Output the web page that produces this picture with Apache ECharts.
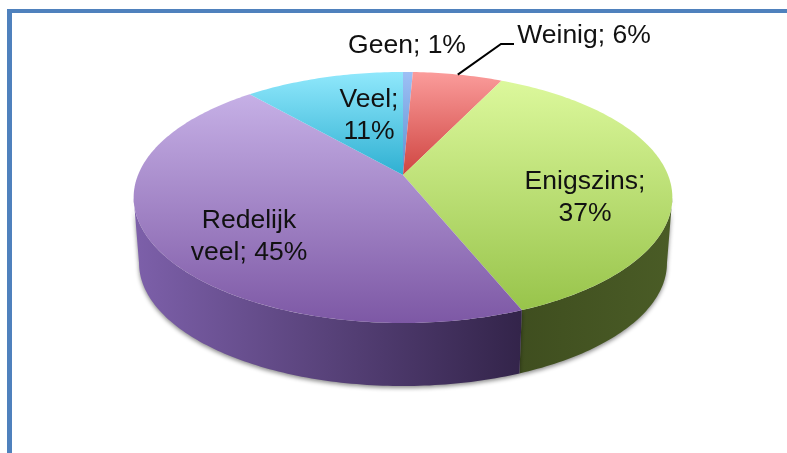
<!DOCTYPE html>
<html>
<head>
<meta charset="utf-8">
<style>
  html, body { margin: 0; background: #fff; }
  #chart { width: 787px; height: 453px; }
</style>
<script src="https://cdn.jsdelivr.net/npm/echarts@6/dist/echarts.min.js"></script>
</head>
<body>
<div id="chart"></div>
<script>
const categories = ['Geen', 'Weinig', 'Enigszins', 'Redelijk veel', 'Veel']
const values = [0.7, 6.4, 36.8, 44.7, 11.4]
const labelTexts = ['Geen; 1%', 'Weinig; 6%', 'Enigszins;\n37%', 'Redelijk\nveel; 45%', 'Veel;\n11%']

const labelPos = [[407, 46], [584, 36], [585, 198], [249, 237], [369, 116]]
const topColors = [
  ['#9dc0f5', '#5f8fd0'],
  ['#fb9c9b', '#cf4541'],
  ['#dcf89c', '#98c44b'],
  ['#c6b0e6', '#7d58a5'],
  ['#90e8fc', '#2fb0d2']
]
const sideColors = {
  2: ['#3f4e1f', '#4a5c26'],
  3: ['#7d60aa', '#33244a']
}

// Schuin aanzicht: cirkel geprojecteerd op een ellips, met perspectief
const view = { cx: 403, cy: 175, a: 265, b: 121.5, k: -0.179, depth: 66, shrink: 0.98 }

function project(t, onBottom) {
  let v = Math.sin(t)
  let u = -Math.cos(t)
  let w = 1 + view.k * u
  let s = onBottom ? view.shrink : 1
  let y0 = onBottom ? view.cy + view.depth : view.cy
  return [view.cx + s * view.a * v / w, y0 + s * view.b * u / w]
}

function arc(from, to, onBottom) {
  let pts = []
  let n = Math.max(2, Math.ceil(Math.abs(to - from) * 60))
  for (let i = 0; i <= n; i++) {
    pts.push(project(from + (to - from) * i / n, onBottom))
  }
  return pts
}

const total = values.reduce((a, b) => a + b, 0)
let running = 0
const slices = values.map((val, i) => {
  let start = running / total * Math.PI * 2
  running += val
  return { name: categories[i], value: val, start: start, end: running / total * Math.PI * 2 }
})

// Alleen de voorkant van de rand is zichtbaar
const frontFrom = Math.PI / 2 + Math.asin(-view.k)
const frontTo = Math.PI * 1.5 - Math.asin(-view.k)

function renderSide(params, api) {
  let i = api.value(0)
  let s = slices[i]
  let from = Math.max(s.start, frontFrom)
  let to = Math.min(s.end, frontTo)
  if (from >= to || !sideColors[i]) return null
  let top = arc(from, to, false)
  let bottom = arc(to, from, true)
  let xs = top.concat(bottom).map(p => p[0])
  return {
    type: 'polygon',
    shape: { points: top.concat(bottom) },
    style: {
      fill: {
        type: 'linear',
        x: Math.min.apply(null, xs), y: 0, x2: Math.max.apply(null, xs), y2: 0,
        global: true,
        colorStops: [
          { offset: 0, color: sideColors[i][0] },
          { offset: 1, color: sideColors[i][1] }
        ]
      },
      shadowBlur: 4,
      shadowOffsetY: 2,
      shadowColor: 'rgba(0,0,0,0.45)'
    }
  }
}

function renderTop(params, api) {
  let i = api.value(0)
  let s = slices[i]
  let pts = [[view.cx, view.cy]].concat(arc(s.start, s.end, false))
  let ys = pts.map(p => p[1])
  return {
    type: 'polygon',
    shape: { points: pts },
    style: {
      fill: {
        type: 'linear',
        x: 0, y: Math.min.apply(null, ys), x2: 0, y2: Math.max.apply(null, ys),
        global: true,
        colorStops: [
          { offset: 0, color: topColors[i][0] },
          { offset: 1, color: topColors[i][1] }
        ]
      }
    }
  }
}

function renderLabel(params, api) {
  let i = api.value(0)
  return {
    type: 'text',
    style: {
      text: labelTexts[i],
      x: labelPos[i][0],
      y: labelPos[i][1],
      align: 'center',
      verticalAlign: 'middle',
      font: '26.5px "Liberation Sans", Arial, sans-serif',
      lineHeight: 32,
      fill: '#111'
    }
  }
}

// Verbindingslijn van Weinig
function renderLeader(params, api) {
  let s = slices[api.value(0)]
  let from = project((s.start + s.end) / 2, false)
  return {
    type: 'polyline',
    shape: { points: [from, [501, 44], [514, 44]] },
    style: { fill: 'none', stroke: '#000', lineWidth: 2 }
  }
}

const idx = categories.map((c, i) => [i])

const chart = echarts.init(document.getElementById('chart'), null, { renderer: 'canvas' })
chart.setOption({
  animation: false,
  backgroundColor: '#fff',
  graphic: [
    { type: 'rect', shape: { x: 7, y: 9, width: 780, height: 4 }, style: { fill: '#4f81bd' } },
    { type: 'rect', shape: { x: 7, y: 9, width: 5, height: 444 }, style: { fill: '#4f81bd' } }
  ],
  series: [
    { type: 'custom', coordinateSystem: 'none', renderItem: renderSide, data: idx, silent: true, z: 2 },
    { type: 'custom', coordinateSystem: 'none', renderItem: renderTop, data: idx, silent: true, z: 3 },
    { type: 'custom', coordinateSystem: 'none', renderItem: renderLeader, data: [[1]], silent: true, z: 4 },
    { type: 'custom', coordinateSystem: 'none', renderItem: renderLabel, data: idx, silent: true, z: 5 }
  ]
})
</script>
</body>
</html>
